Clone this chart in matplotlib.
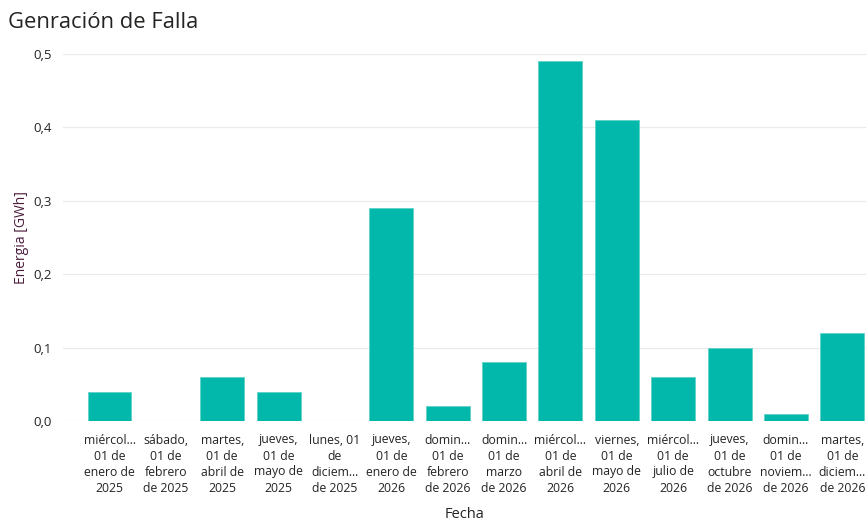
import matplotlib
matplotlib.use("Agg")
import matplotlib.pyplot as plt
from matplotlib.ticker import FuncFormatter

plt.rcParams['font.family'] = ['Open Sans', 'DejaVu Sans']

fechas = [
    "miércol...\n01 de\nenero de\n2025",
    "sábado,\n01 de\nfebrero\nde 2025",
    "martes,\n01 de\nabril de\n2025",
    "jueves,\n01 de\nmayo de\n2025",
    "lunes, 01\nde\ndiciem...\nde 2025",
    "jueves,\n01 de\nenero de\n2026",
    "domin...\n01 de\nfebrero\nde 2026",
    "domin...\n01 de\nmarzo\nde 2026",
    "miércol...\n01 de\nabril de\n2026",
    "viernes,\n01 de\nmayo de\n2026",
    "miércol...\n01 de\njulio de\n2026",
    "jueves,\n01 de\noctubre\nde 2026",
    "domin...\n01 de\nnoviem...\nde 2026",
    "martes,\n01 de\ndiciem...\nde 2026",
]
energia = [0.04, 0.0, 0.06, 0.04, 0.0, 0.29, 0.02, 0.08, 0.49, 0.41, 0.06, 0.10, 0.01, 0.12]

fig = plt.figure(figsize=(8.67, 5.22), dpi=100)
ax = fig.add_axes([63 / 867, 101 / 522, 803 / 867, 367 / 522])

x = range(len(energia))
ax.bar(x, energia, width=0.78, color='#01B8AA', edgecolor='#5FD3C9', linewidth=0.6, zorder=3)

ax.set_xlim(-0.825, 13.42)
ax.set_ylim(0, 0.5)
ax.set_yticks([0, 0.1, 0.2, 0.3, 0.4, 0.5])
ax.yaxis.set_major_formatter(FuncFormatter(lambda v, p: f"{v:.1f}".replace('.', ',')))
ax.set_xticks(list(x))
ax.set_xticklabels(fechas, fontsize=8.8, color='#252423', linespacing=1.3)
ax.tick_params(axis='y', labelsize=9.5, labelcolor='#252423', length=0, pad=8)
ax.tick_params(axis='x', length=0, pad=9)

ax.grid(axis='y', color='#EAEAEA', linewidth=0.9, zorder=0)
for s in ax.spines.values():
    s.set_visible(False)

ax.set_xlabel("Fecha", fontsize=10.5, color='#252423', labelpad=9)
ax.set_ylabel("Energia [GWh]", fontsize=10, color='#4B1C3C', labelpad=3)
fig.text(8 / 867, 1 - 22 / 522, "Genración de Falla", fontsize=15.8, color='#252423', va='center', ha='left')

fig.savefig("out.png", dpi=100)
